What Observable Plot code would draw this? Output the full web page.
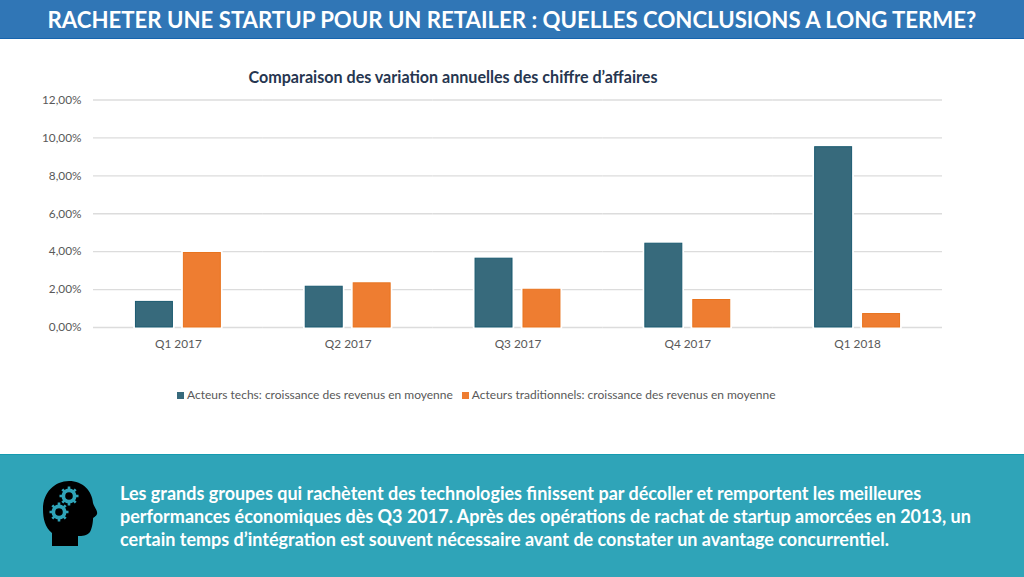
<!DOCTYPE html>
<html lang="fr">
<head>
<meta charset="utf-8">
<script src="https://cdn.jsdelivr.net/npm/d3@7"></script>
<script src="https://cdn.jsdelivr.net/npm/@observablehq/plot@0.6"></script>
<style>
html,body{margin:0;padding:0;background:#fff;overflow:hidden}
#page{position:relative;width:1024px;height:577px;font-family:Lato,sans-serif;overflow:hidden}
#page>*{position:absolute}
#head{left:0;top:0;width:1024px;height:38px;background:#3076b6;border-bottom:1.5px solid #1664ae}
#head span{display:block;color:#fff;font-weight:700;font-size:23.6px;line-height:38px;text-align:center;white-space:nowrap;transform:scaleX(.94);transform-origin:511px 0}
#title{left:0;width:906px;top:67px;text-align:center;font-weight:700;font-size:16.1px;line-height:20px;color:#263650;white-space:nowrap}
#legend{top:387px;left:177px;font-size:12px;line-height:16px;color:#595959;white-space:nowrap;display:flex;align-items:center}
#legend i{display:inline-block;width:7px;height:7px;margin-right:3px}
#legend span{margin-right:9px}
#band{left:0;top:454px;width:1024px;height:123px;background:#2fa4b8;border-top:1px solid #159bb0;box-sizing:border-box}
#msg{left:120px;top:482px;color:#fff;font-weight:700;font-size:18px;line-height:23px;white-space:nowrap}
#icon{left:40px;top:478px}
</style>
</head>
<body>
<div id="page">
<div id="chart" style="left:0;top:0"></div>
<div id="head"><span></span></div>
<div id="title"></div>
<div id="legend"></div>
<div id="band"></div>
<svg id="icon" width="60" height="70" viewBox="0 0 60 70">
<path fill="#000" d="M12 68 L12 55 C5 49 3 41 3 31 C3 14 15 3 29 3 C43 3 52 13 53 25 C54 29 58 33 57 36 C56 39 53 39 53 41 C53 44 52 50 50 54 C47 58 42 58 38 58 L38 68 Z"/>
<g fill="#2fa4b8">
<circle cx="29" cy="18" r="7.5"/><circle cx="19" cy="34" r="7.5"/>
<g stroke="#2fa4b8" stroke-width="2.6">
<path d="M29 8.5V27.5M19.5 18H38.5M22.3 11.3L35.7 24.7M35.7 11.3L22.3 24.7"/>
<path d="M19 24.5V43.5M9.5 34H28.5M12.3 27.3L25.7 40.7M25.7 27.3L12.3 40.7"/>
</g>
</g>
<circle cx="29" cy="18" r="3.8" fill="#000"/><circle cx="19" cy="34" r="3.8" fill="#000"/>
</svg>
<div id="msg"></div>
</div>
<script>
const headText = "RACHETER UNE STARTUP POUR UN RETAILER : QUELLES CONCLUSIONS A LONG TERME?";
const chartTitle = "Comparaison des variation annuelles des chiffre d’affaires";
const quarters = ["Q1 2017", "Q2 2017", "Q3 2017", "Q4 2017", "Q1 2018"];
const seriesNames = [
  "Acteurs techs: croissance des revenus en moyenne",
  "Acteurs traditionnels: croissance des revenus en moyenne"
];
const techValues = [1.35, 2.15, 3.63, 4.42, 9.51];
const tradValues = [3.93, 2.33, 1.99, 1.45, 0.71];
const yTicks = [0, 2, 4, 6, 8, 10, 12];
const fills = ["#376a7c", "#ee7d31"];
const strokes = ["#1a5a70", "#e8741f"];
const msgLines = [
  "Les grands groupes qui rachètent des technologies finissent par décoller et remportent les meilleures",
  "performances économiques dès Q3 2017. Après des opérations de rachat de startup amorcées en 2013, un",
  "certain temps d’intégration est souvent nécessaire avant de constater un avantage concurrentiel."
];

document.querySelector("#head span").textContent = headText;
document.getElementById("title").textContent = chartTitle;
document.getElementById("msg").innerHTML = msgLines.join("<br>");
document.getElementById("legend").innerHTML = seriesNames
  .map((s, i) => `<i style="background:${fills[i]}"></i><span>${s}</span>`).join("");

const rows = quarters.flatMap((q, i) => [
  {quarter: q, series: seriesNames[0], value: techValues[i]},
  {quarter: q, series: seriesNames[1], value: tradValues[i]}
]);
const fmt = d => d.toFixed(2).replace(".", ",") + "%";

const plot = Plot.plot({
  width: 1024,
  height: 577,
  marginLeft: 93,
  marginRight: 82,
  marginTop: 99.5,
  marginBottom: 250,
  style: {fontFamily: "Lato, sans-serif", background: "transparent"},
  fx: {domain: quarters, paddingInner: 0, paddingOuter: 0, round: false, label: null},
  x: {domain: seriesNames, paddingInner: 0.2083, paddingOuter: 0.875, round: false, axis: null, label: null},
  y: {domain: [0, 12], label: null, ticks: yTicks},
  color: {domain: seriesNames, range: fills},
  marks: [
    Plot.ruleY(yTicks, {stroke: "#dcdcdc", strokeWidth: 1.4}),
    Plot.axisY(yTicks, {tickSize: 0, tickPadding: 12, tickFormat: fmt, fontSize: 11.8, fill: "#595959", label: null, marginLeft: 93}),
    Plot.axisFx({anchor: "bottom", tickSize: 0, tickPadding: 12, fontSize: 11.8, fill: "#595959", label: null}),
    Plot.barY(rows, {fx: "quarter", x: "series", y: "value", fill: "none", stroke: "#fff", strokeWidth: 3.5}),
    Plot.barY(rows, {fx: "quarter", x: "series", y: "value", fill: "series", insetLeft: 0.5, insetRight: 0.5,
      stroke: d => strokes[seriesNames.indexOf(d.series)], strokeWidth: 1})
  ]
});
document.getElementById("chart").appendChild(plot);
</script>
</body>
</html>
